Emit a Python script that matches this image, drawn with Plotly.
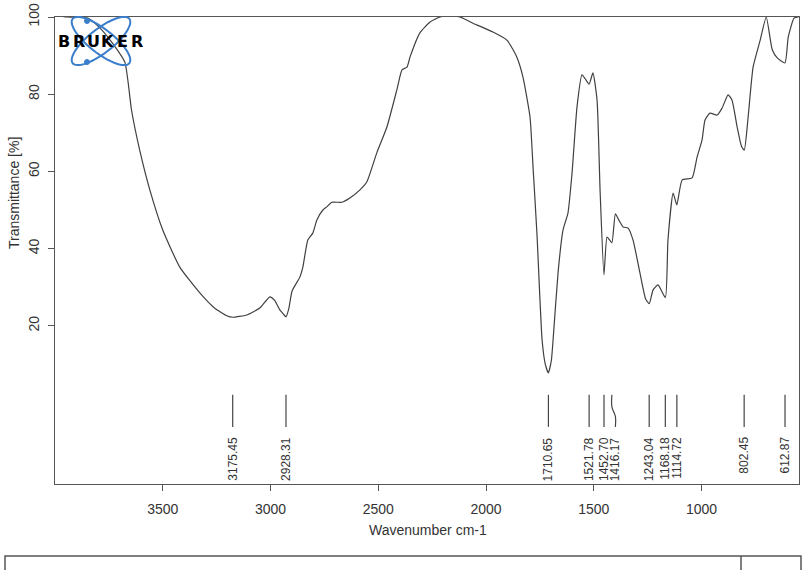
import numpy as np
import plotly.graph_objects as go

# spectrum (wavenumber cm-1, transmittance %)
wavenumber = [3998, 3946, 3848, 3792, 3737, 3676, 3645, 3607, 3560, 3500, 3421, 3328,
              3260, 3203, 3175, 3110, 3050, 3003, 2980, 2957, 2940, 2928, 2915, 2900,
              2864, 2850, 2827, 2804, 2785, 2757, 2739, 2715, 2669, 2632, 2585, 2553,
              2507, 2460, 2414, 2390, 2367, 2353, 2307, 2260, 2214, 2170, 2121, 2061,
              1968, 1903, 1857, 1829, 1796, 1782, 1764, 1740, 1725, 1711, 1697, 1689,
              1666, 1643, 1620, 1601, 1578, 1555, 1540, 1522, 1504, 1485, 1471, 1453,
              1439, 1428, 1416, 1400, 1385, 1364, 1341, 1318, 1286, 1260, 1243, 1225,
              1202, 1168, 1156, 1132, 1115, 1090, 1044, 1021, 998, 984, 961, 928,
              905, 877, 859, 835, 815, 802, 784, 761, 728, 700, 672, 649,
              613, 598, 571, 550]
transmittance = [100.5, 100, 99.7, 97.2, 93.5, 88.3, 75.9, 65.5, 55.2, 44.8, 35.2, 28.5,
                 24.6, 22.6, 22.2, 22.8, 24.6, 27.5, 26.5, 24.1, 23.0, 22.3, 24.5, 29.0,
                 32.6, 35.2, 42.2, 44.0, 47.4, 50.0, 50.8, 52.0, 52.0, 53.1, 55.2, 57.3,
                 64.8, 71.5, 81.1, 86.3, 87.0, 89.6, 95.9, 98.7, 100, 100.3, 100, 98.4,
                 96.1, 94.0, 89.6, 84.5, 74.1, 61.1, 44.0, 16.3, 10.0, 7.8, 11.0, 16.3,
                 33.7, 44.8, 49.2, 59.6, 76.7, 85.0, 84.0, 82.6, 85.5, 78.5, 55.2, 33.2,
                 43.0, 42.3, 41.5, 49.0, 47.5, 45.6, 45.3, 42.2, 33.7, 27.0, 25.7, 29.3,
                 30.6, 27.3, 42.2, 54.4, 51.3, 57.8, 58.3, 63.7, 68.1, 73.3, 75.1, 74.6,
                 76.4, 79.8, 78.5, 71.5, 66.5, 65.5, 74.1, 87.0, 94.0, 100, 91.5, 89.4,
                 88.1, 94.8, 99.7, 100]

# picked peaks and where their labels sit
peaks = [3175.45, 2928.31, 1710.65, 1521.78, 1452.70, 1416.17,
         1243.04, 1168.18, 1114.72, 802.45, 612.87]
label_pos = [3175.45, 2928.31, 1710.65, 1521.78, 1452.70, 1400.0,
             1243.04, 1168.18, 1114.72, 802.45, 612.87]

x_ticks = [3500, 3000, 2500, 2000, 1500, 1000]
y_ticks = [20, 40, 60, 80, 100]

W, H = 807, 570
L, R, T, B = 55, 8, 17, 86
frame = "#555555"
text_col = "#333333"


def px_to_paper(x, y):
    # pixel position in the page -> paper coordinates
    return (x - L) / (W - L - R), (H - B - y) / (H - T - B)


fig = go.Figure()

fig.add_trace(go.Scatter(x=wavenumber, y=transmittance, mode="lines",
                         line=dict(color="#404040", width=1.2, shape="spline", smoothing=0.5),
                         hoverinfo="skip", showlegend=False))

# peak marker lines
for p, lp in zip(peaks, label_pos):
    if p == lp:
        xs, ys = [p, p], [2.1, -6.2]
    else:
        xs, ys = [p, p, lp, lp], [2.1, -1.0, -3.5, -6.2]
    fig.add_trace(go.Scatter(x=xs, y=ys, mode="lines",
                             line=dict(color="#444444", width=1.2, shape="spline"),
                             hoverinfo="skip", showlegend=False))

annotations = []
for p, lp in zip(peaks, label_pos):
    annotations.append(dict(x=lp, y=-8.3, xref="x", yref="y", text=f"{p:.2f}",
                            showarrow=False, textangle=-90, xanchor="center", yanchor="top",
                            font=dict(family="Liberation Sans", size=12, color=text_col)))

ax, ay = px_to_paper(428, 530)
annotations.append(dict(x=ax, y=ay, xref="paper", yref="paper", text="Wavenumber cm-1",
                        showarrow=False, xanchor="center", yanchor="middle",
                        font=dict(family="Liberation Sans", size=14, color=text_col)))
ax, ay = px_to_paper(14, 193)
annotations.append(dict(x=ax, y=ay, xref="paper", yref="paper", text="Transmittance [%]",
                        showarrow=False, textangle=-90, xanchor="center", yanchor="middle",
                        font=dict(family="Liberation Sans", size=14, color=text_col)))

# BRUKER logo: letters spaced out like the original
for i, ch in enumerate("BRUKER"):
    ax, ay = px_to_paper(64 + i * 14.6, 41)
    annotations.append(dict(x=ax, y=ay, xref="paper", yref="paper", text=f"<b>{ch}</b>",
                            showarrow=False, xanchor="center", yanchor="middle",
                            font=dict(family="DejaVu Sans", size=16, color="black")))

shapes = []
t = np.linspace(0, 2 * np.pi, 60)
for ang in (38, -38):
    a = np.radians(ang)
    ex = 101 + 36 * np.cos(t) * np.cos(a) - 12 * np.sin(t) * np.sin(a)
    ey = 41 + 36 * np.cos(t) * np.sin(a) + 12 * np.sin(t) * np.cos(a)
    pts = [px_to_paper(u, v) for u, v in zip(ex, ey)]
    path = "M " + " L ".join(f"{u:.4f},{v:.4f}" for u, v in pts) + " Z"
    shapes.append(dict(type="path", path=path, xref="paper", yref="paper",
                       line=dict(color="#3b7fcc", width=2), layer="above"))
for cx, cy in [(87, 21), (87, 62)]:
    x0, y0 = px_to_paper(cx - 2.5, cy + 2.5)
    x1, y1 = px_to_paper(cx + 2.5, cy - 2.5)
    shapes.append(dict(type="circle", xref="paper", yref="paper", x0=x0, y0=y0, x1=x1, y1=y1,
                       fillcolor="#3b7fcc", line=dict(color="#3b7fcc", width=1), layer="above"))

# empty box under the chart
bx0, by0 = px_to_paper(5, 556)
bx1, by1 = px_to_paper(801, 590)
dx, _ = px_to_paper(741, 556)
shapes.append(dict(type="rect", xref="paper", yref="paper", x0=bx0, y0=by0, x1=bx1, y1=by1,
                   line=dict(color=frame, width=1.5)))
shapes.append(dict(type="line", xref="paper", yref="paper", x0=dx, y0=by0, x1=dx, y1=by1,
                   line=dict(color=frame, width=1.5)))

fig.update_layout(
    width=W, height=H,
    margin=dict(l=L, r=R, t=T, b=B, autoexpand=False),
    paper_bgcolor="white", plot_bgcolor="white",
    showlegend=False,
    annotations=annotations,
    shapes=shapes,
    xaxis=dict(range=[4000, 548], tickvals=x_ticks, ticks="outside", ticklen=6,
               tickcolor=frame, showline=True, linecolor=frame, linewidth=1, mirror=True,
               showgrid=False, zeroline=False, ticklabelstandoff=6, automargin=False,
               tickfont=dict(family="Liberation Sans", size=14, color=text_col)),
    yaxis=dict(range=[-21, 100], tickvals=y_ticks, ticks="outside", ticklen=6,
               tickcolor=frame, showline=True, linecolor=frame, linewidth=1, mirror=True,
               showgrid=False, zeroline=False, tickangle=-90, ticklabelstandoff=3,
               automargin=False,
               tickfont=dict(family="Liberation Sans", size=14, color=text_col)),
)

# the page body has a default 8px margin; drop it so the figure sits at the corner
fig.write_html("out.html", config={"displayModeBar": False},
               post_script="document.body.style.margin = '0';")
